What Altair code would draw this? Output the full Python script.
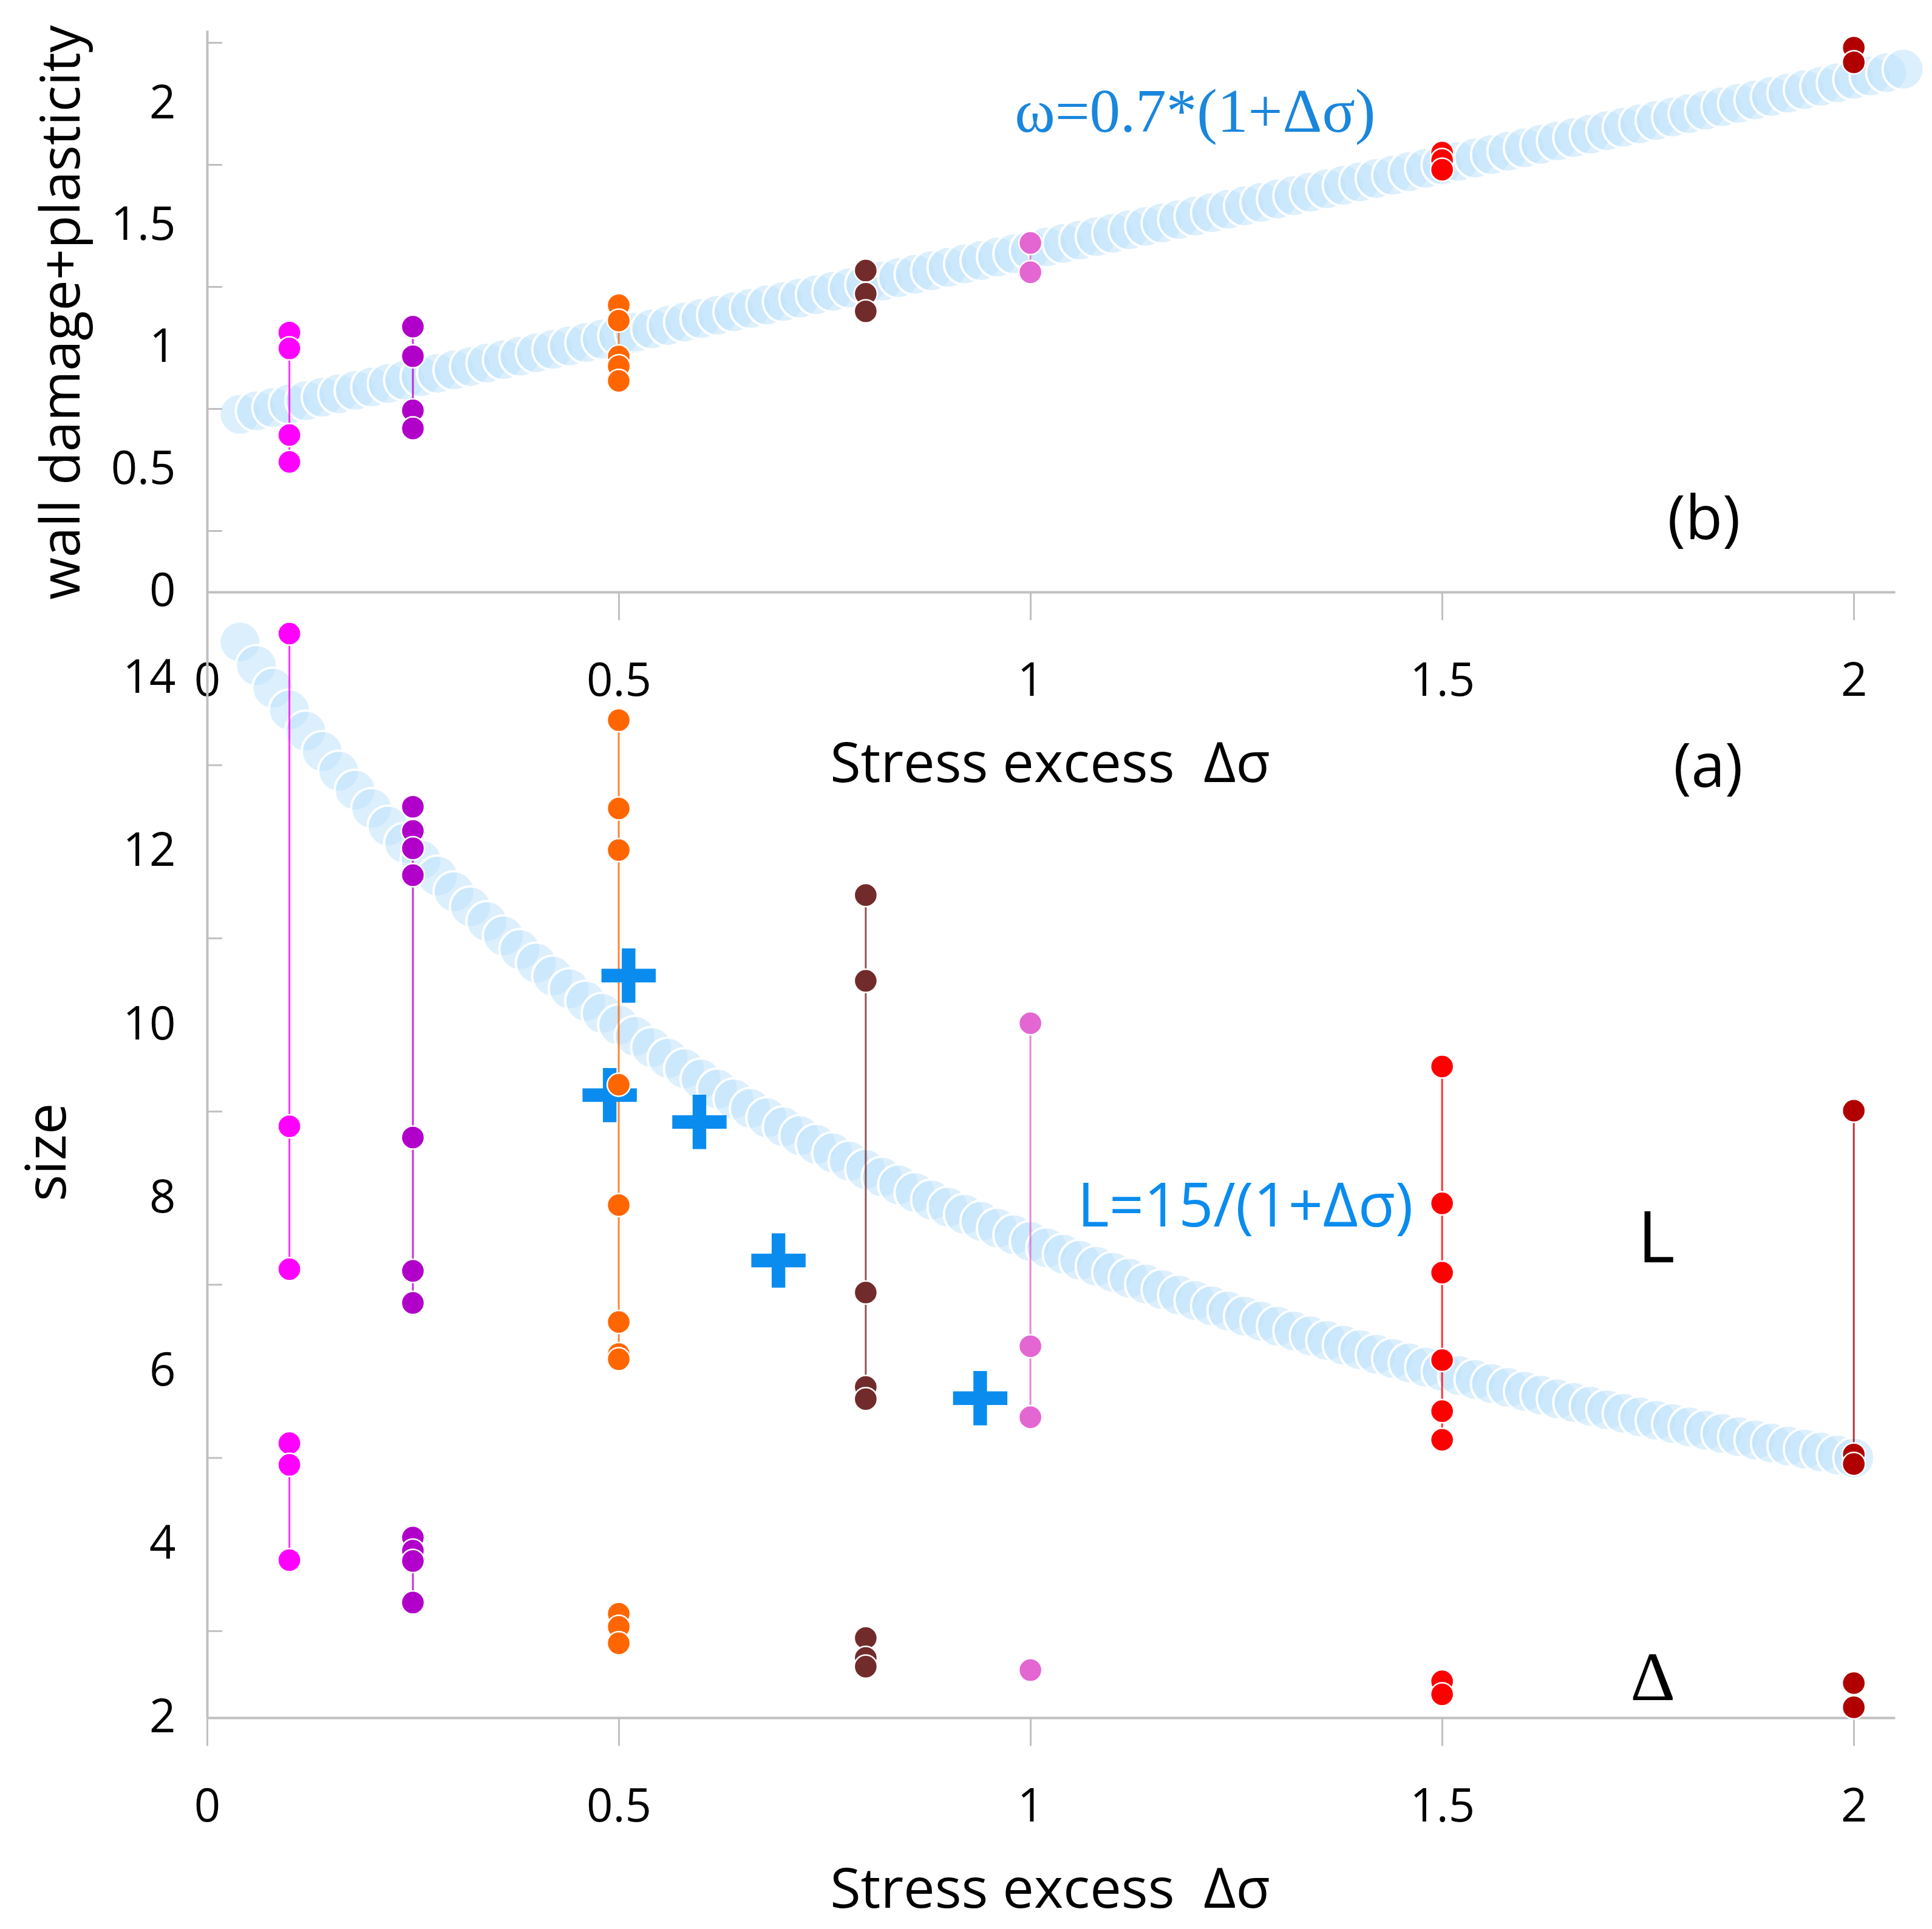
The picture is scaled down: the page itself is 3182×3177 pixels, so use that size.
import altair as alt
import pandas as pd

# ------------------------------------------------------------------ data
STRESS = [0.1, 0.25, 0.5, 0.8, 1.0, 1.5, 2.0]
GROUP_NAMES = ["0.1", "0.25", "0.5", "0.8", "1", "1.5", "2"]
GROUP_COLORS = ["#ff00ff", "#b100c9", "#ff6600", "#722b2b", "#e466d2", "#ff0000", "#b00000"]

# panel (b): wall damage + plasticity
DAMAGE = [
    [1.063, 0.998, 0.643, 0.533],
    [1.087, 0.966, 0.744, 0.670],
    [1.175, 1.112, 0.965, 0.925, 0.865],
    [1.317, 1.222, 1.150],
    [1.430, 1.310],
    [1.800, 1.770, 1.730],
    [2.230, 2.170],
]

# panel (a): size L (upper cluster) and Delta (lower cluster)
SIZE_L = [
    [14.52, 8.83, 7.18],
    [12.52, 12.24, 12.04, 11.73, 8.70, 7.16, 6.79],
    [13.52, 12.50, 12.02, 9.31, 7.92, 6.57, 6.20, 6.14],
    [11.50, 10.51, 6.91, 5.82, 5.68],
    [10.02, 6.29, 5.47],
    [9.52, 7.94, 7.14, 6.13, 5.54, 5.21],
    [9.01, 5.04, 4.93],
]
SIZE_D = [
    [5.17, 4.92, 3.82],
    [4.08, 3.93, 3.81, 3.33],
    [3.20, 3.05, 2.86],
    [2.92, 2.69, 2.59],
    [2.55],
    [2.42, 2.27],
    [2.40, 2.12],
]

# blue crosses
PLUS_X = [0.512, 0.489, 0.598, 0.694, 0.939]
PLUS_Y = [10.57, 9.19, 8.88, 7.28, 5.69]

# light-blue band of circles, panel (b): omega = 0.7*(1+ds)
BAND_X_TOP = [
    0.04, 0.06, 0.08, 0.10, 0.12, 0.14, 0.16, 0.18, 0.20, 0.22,
    0.24, 0.26, 0.28, 0.30, 0.32, 0.34, 0.36, 0.38, 0.40, 0.42,
    0.44, 0.46, 0.48, 0.50, 0.52, 0.54, 0.56, 0.58, 0.60, 0.62,
    0.64, 0.66, 0.68, 0.70, 0.72, 0.74, 0.76, 0.78, 0.80, 0.82,
    0.84, 0.86, 0.88, 0.90, 0.92, 0.94, 0.96, 0.98, 1.00, 1.02,
    1.04, 1.06, 1.08, 1.10, 1.12, 1.14, 1.16, 1.18, 1.20, 1.22,
    1.24, 1.26, 1.28, 1.30, 1.32, 1.34, 1.36, 1.38, 1.40, 1.42,
    1.44, 1.46, 1.48, 1.50, 1.52, 1.54, 1.56, 1.58, 1.60, 1.62,
    1.64, 1.66, 1.68, 1.70, 1.72, 1.74, 1.76, 1.78, 1.80, 1.82,
    1.84, 1.86, 1.88, 1.90, 1.92, 1.94, 1.96, 1.98, 2.00, 2.02,
    2.04, 2.06,
]
BAND_Y_TOP = [
    0.728, 0.742, 0.756, 0.770, 0.784, 0.798, 0.812, 0.826, 0.840, 0.854,
    0.868, 0.882, 0.896, 0.910, 0.924, 0.938, 0.952, 0.966, 0.980, 0.994,
    1.008, 1.022, 1.036, 1.050, 1.064, 1.078, 1.092, 1.106, 1.120, 1.134,
    1.148, 1.162, 1.176, 1.190, 1.204, 1.218, 1.232, 1.246, 1.260, 1.274,
    1.288, 1.302, 1.316, 1.330, 1.344, 1.358, 1.372, 1.386, 1.400, 1.414,
    1.428, 1.442, 1.456, 1.470, 1.484, 1.498, 1.512, 1.526, 1.540, 1.554,
    1.568, 1.582, 1.596, 1.610, 1.624, 1.638, 1.652, 1.666, 1.680, 1.694,
    1.708, 1.722, 1.736, 1.750, 1.764, 1.778, 1.792, 1.806, 1.820, 1.834,
    1.848, 1.862, 1.876, 1.890, 1.904, 1.918, 1.932, 1.946, 1.960, 1.974,
    1.988, 2.002, 2.016, 2.030, 2.044, 2.058, 2.072, 2.086, 2.100, 2.114,
    2.128, 2.142,
]

# light-blue band of circles, panel (a): L = 15/(1+ds)
BAND_X_BOT = [
    0.04, 0.06, 0.08, 0.10, 0.12, 0.14, 0.16, 0.18, 0.20, 0.22,
    0.24, 0.26, 0.28, 0.30, 0.32, 0.34, 0.36, 0.38, 0.40, 0.42,
    0.44, 0.46, 0.48, 0.50, 0.52, 0.54, 0.56, 0.58, 0.60, 0.62,
    0.64, 0.66, 0.68, 0.70, 0.72, 0.74, 0.76, 0.78, 0.80, 0.82,
    0.84, 0.86, 0.88, 0.90, 0.92, 0.94, 0.96, 0.98, 1.00, 1.02,
    1.04, 1.06, 1.08, 1.10, 1.12, 1.14, 1.16, 1.18, 1.20, 1.22,
    1.24, 1.26, 1.28, 1.30, 1.32, 1.34, 1.36, 1.38, 1.40, 1.42,
    1.44, 1.46, 1.48, 1.50, 1.52, 1.54, 1.56, 1.58, 1.60, 1.62,
    1.64, 1.66, 1.68, 1.70, 1.72, 1.74, 1.76, 1.78, 1.80, 1.82,
    1.84, 1.86, 1.88, 1.90, 1.92, 1.94, 1.96, 1.98, 2.00,
]
BAND_Y_BOT = [
    14.423, 14.151, 13.889, 13.636, 13.393, 13.158, 12.931, 12.712, 12.500, 12.295,
    12.097, 11.905, 11.719, 11.538, 11.364, 11.194, 11.029, 10.870, 10.714, 10.563,
    10.417, 10.274, 10.135, 10.000, 9.868, 9.740, 9.615, 9.494, 9.375, 9.259,
    9.146, 9.036, 8.929, 8.824, 8.721, 8.621, 8.523, 8.427, 8.333, 8.242,
    8.152, 8.065, 7.979, 7.895, 7.813, 7.732, 7.653, 7.576, 7.500, 7.426,
    7.353, 7.282, 7.212, 7.143, 7.075, 7.009, 6.944, 6.881, 6.818, 6.757,
    6.696, 6.637, 6.579, 6.522, 6.466, 6.410, 6.356, 6.303, 6.250, 6.198,
    6.148, 6.098, 6.048, 6.000, 5.952, 5.906, 5.859, 5.814, 5.769, 5.725,
    5.682, 5.639, 5.597, 5.556, 5.515, 5.474, 5.435, 5.396, 5.357, 5.319,
    5.282, 5.245, 5.208, 5.172, 5.137, 5.102, 5.068, 5.034, 5.000,
]

X_TICKS = [0, 0.5, 1, 1.5, 2]
TOP_Y_LABELS = [0, 0.5, 1, 1.5, 2]
TOP_MINOR = [0.25, 0.75, 1.25, 1.75, 2.25]
BOT_Y_LABELS = [2, 4, 6, 8, 10, 12, 14]
BOT_MINOR = [3, 5, 7, 9, 11, 13]

assert len(BAND_X_TOP) == len(BAND_Y_TOP)
assert len(BAND_X_BOT) == len(BAND_Y_BOT)

# ------------------------------------------------------------------ frames
def points_frame(values, kind):
    rows = []
    for name, s, vals in zip(GROUP_NAMES, STRESS, values):
        for v in vals:
            rows.append({"x": s, "y": v, "grp": name, "series": name + kind})
    return pd.DataFrame(rows)

df_b = points_frame(DAMAGE, "b")
df_a = pd.concat([points_frame(SIZE_L, "L"), points_frame(SIZE_D, "D")], ignore_index=True)
df_plus = pd.DataFrame({"x": PLUS_X, "y": PLUS_Y})
df_band_top = pd.DataFrame({"x": BAND_X_TOP, "y": BAND_Y_TOP})
df_band_bot = pd.DataFrame({"x": BAND_X_BOT, "y": BAND_Y_BOT})
df_minor_top = pd.DataFrame({"y": TOP_MINOR})
df_minor_bot = pd.DataFrame({"y": BOT_MINOR})

# ------------------------------------------------------------------ geometry
W, H = 2780, 2779
GREY = "#c0c0c0"
BLUE = "#0a8cef"
SANS = "Open Sans"
SERIF = "Liberation Serif"
FMT = ".2~f"

common = dict(
    labelFont=SANS, labelFontSize=76, labelColor="black",
    titleFont=SANS, titleFontWeight="normal", titleColor="black",
    grid=False, labelFlush=False, labelOverlap=False,
    domainColor=GREY, domainWidth=4, tickColor=GREY, tickWidth=3,
)

x_title = "Stress excess\u00a0 \u0394\u03c3"

x_top_axis = alt.Axis(
    orient="bottom", offset=-1854, values=X_TICKS, format=FMT,
    title=x_title, titleFontSize=92, titleX=1388, titleY=312, titleBaseline="alphabetic",
    titleAlign="center", titleAngle=0,
    ticks=True, tickSize=46, labelPadding=101, labelBaseline="middle",
    domain=True, **common,
)
x_bot_axis = alt.Axis(
    orient="bottom", values=X_TICKS, format=FMT,
    title=x_title, titleFontSize=92, titleX=1388, titleY=312, titleBaseline="alphabetic",
    titleAlign="center", titleAngle=0,
    ticks=True, tickSize=46, labelPadding=101, labelBaseline="middle",
    domain=True, **common,
)
y_top_axis = alt.Axis(
    orient="left", values=TOP_Y_LABELS, format=FMT,
    title="wall damage+plasticity", titleFontSize=90, titleX=-211, titleY=464, titleAngle=270,
    titleBaseline="alphabetic", titleAlign="center",
    ticks=False, tickSize=0, labelPadding=52, domain=False, **common,
)
y_bot_axis = alt.Axis(
    orient="left", values=BOT_Y_LABELS, format=FMT,
    title="size", titleFontSize=92, titleX=-234, titleY=1847, titleAngle=270,
    titleBaseline="alphabetic", titleAlign="center",
    ticks=False, tickSize=0, labelPadding=52, domain=True, **common,
)

X_TOP = alt.X("x:Q", scale=alt.Scale(domain=[0, 2.05], nice=False, zero=False), axis=x_top_axis)
Y_TOP = alt.Y("y:Q", scale=alt.Scale(domain=[-4.612, 2.301], nice=False, zero=False), axis=y_top_axis)
X_BOT = alt.X("x:Q", scale=alt.Scale(domain=[0, 2.05], nice=False, zero=False), axis=x_bot_axis)
Y_BOT = alt.Y("y:Q", scale=alt.Scale(domain=[2, 21.486], nice=False, zero=False), axis=y_bot_axis)

COLOR = alt.Color("grp:N", scale=alt.Scale(domain=GROUP_NAMES, range=GROUP_COLORS), legend=None)

# slender plus sign (unit-square custom symbol)
PLUS_PATH = "M-0.25,-1H0.25V-0.25H1V0.25H0.25V1H-0.25V0.25H-1V-0.25H-0.25Z"


def band(df, X, Y):
    return alt.Chart(df).mark_circle(
        size=4600, fill="#c0e2fb", fillOpacity=0.55,
        stroke="white", strokeWidth=4, strokeOpacity=0.95,
    ).encode(x=X, y=Y)


def lines(df, X, Y):
    return alt.Chart(df).mark_line(strokeWidth=3, opacity=0.8).encode(
        x=X, y=Y, color=COLOR, detail="series:N", order="y:Q"
    )


def points(df, X, Y):
    return alt.Chart(df).mark_circle(
        size=1450, opacity=1, stroke="white", strokeWidth=2.5
    ).encode(x=X, y=Y, color=COLOR)


def minor(df, Y):
    return alt.Chart(df).mark_rule(color=GREY, strokeWidth=3).encode(
        y=Y, x=alt.value(0), x2=alt.value(25)
    )


def label(text, x, y, X, Y, font, size, color):
    d = pd.DataFrame({"x": [x], "y": [y], "t": [text]})
    return alt.Chart(d).mark_text(
        font=font, fontSize=size, color=color, align="center", baseline="middle"
    ).encode(x=X, y=Y, text="t:N")


top = alt.layer(
    band(df_band_top, X_TOP, Y_TOP),
    lines(df_b, X_TOP, Y_TOP),
    points(df_b, X_TOP, Y_TOP),
    minor(df_minor_top, Y_TOP),
    label("\u03c9=0.7*(1+\u0394\u03c3)", 1.20, 1.96, X_TOP, Y_TOP, SERIF, 101, "#1a86dc"),
    label("(b)", 1.818, 0.29, X_TOP, Y_TOP, SANS, 100, "black"),
)

bottom = alt.layer(
    band(df_band_bot, X_BOT, Y_BOT),
    lines(df_a, X_BOT, Y_BOT),
    alt.Chart(df_plus).mark_point(
        shape=PLUS_PATH, filled=True, size=8000, color=BLUE, opacity=1, strokeWidth=0
    ).encode(x=X_BOT, y=Y_BOT),
    points(df_a, X_BOT, Y_BOT),
    minor(df_minor_bot, Y_BOT),
    label("L=15/(1+\u0394\u03c3)", 1.261, 7.88, X_BOT, Y_BOT, SANS, 100, BLUE),
    label("L", 1.760, 7.505, X_BOT, Y_BOT, SANS, 118, "black"),
    label("\u0394", 1.756, 2.452, X_BOT, Y_BOT, SERIF, 115, "black"),
    label("(a)", 1.823, 12.96, X_BOT, Y_BOT, SANS, 100, "black"),
)

chart = (
    alt.layer(top, bottom)
    .resolve_scale(x="independent", y="independent")
    .properties(
        width=W, height=H,
        padding={"left": 333, "top": 42, "right": 53, "bottom": 340},
        autosize=alt.AutoSizeParams(type="none"),
        background="white",
    )
    .configure_view(strokeWidth=0)
)

chart.save("out.html", embed_options={"renderer": "svg", "actions": False})
